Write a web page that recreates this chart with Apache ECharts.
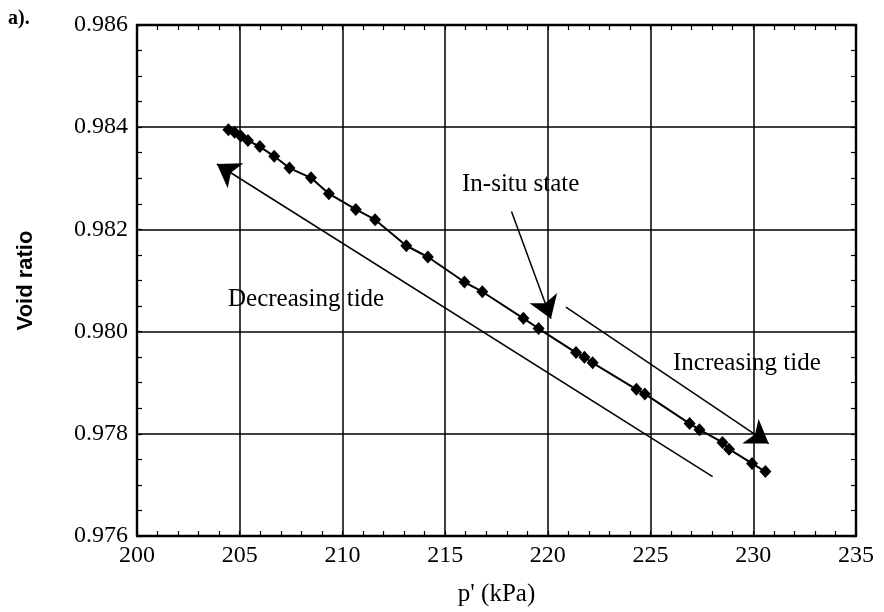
<!DOCTYPE html>
<html>
<head>
<meta charset="utf-8">
<title>Void ratio vs p'</title>
<script src="https://cdn.jsdelivr.net/npm/echarts@6/dist/echarts.min.js"></script>
<style>
  html, body { margin: 0; padding: 0; background: #fff; }
  #chart { width: 884px; height: 612px; }
</style>
</head>
<body>
<div id="chart"></div>
<script>
// Measured states: mean effective stress p' (kPa) and void ratio
const pressure = [204.45, 204.75, 205.05, 205.40, 205.98, 206.68, 207.42, 208.47, 209.34,
  210.65, 211.59, 213.11, 214.16, 215.94, 216.81, 218.81, 219.55, 221.37, 221.78, 222.18,
  224.31, 224.72, 226.90, 227.38, 228.50, 228.82, 229.94, 230.59];
const voidRatio = [0.98395, 0.98390, 0.98383, 0.98374, 0.98362, 0.98343, 0.98320, 0.98301, 0.98270,
  0.98239, 0.98219, 0.98168, 0.98146, 0.98097, 0.98078, 0.98026, 0.98006, 0.97959, 0.97950, 0.97939,
  0.97887, 0.97878, 0.97820, 0.97808, 0.97783, 0.97770, 0.97742, 0.97726];

// Direction arrows: [tail, head] in (p', e)
const decreasingTide = [[228.02, 0.97716], [203.89, 0.98328]];
const increasingTide = [[220.88, 0.98048], [230.75, 0.97781]];
const inSituPointer  = [[218.23, 0.98235], [220.15, 0.98025]];

// Axis ticks
const xTicks = [200, 205, 210, 215, 220, 225, 230, 235];
const yTicks = [0.976, 0.978, 0.980, 0.982, 0.984, 0.986];

const serif = "'Liberation Serif', 'DejaVu Serif', serif";
const ink = '#000';

const chart = echarts.init(document.getElementById('chart'), null, { renderer: 'canvas' });

const tickInside = { show: true, inside: true, length: 5, lineStyle: { color: ink, width: 1.2 } };
const minorInside = { show: true, splitNumber: 5, length: 5, lineStyle: { color: ink, width: 1.2 } };

const points = pressure.map((p, i) => [p, voidRatio[i]]);

chart.setOption({
  backgroundColor: '#fff',
  animation: false,
  grid: { left: 137, right: 28, top: 25, bottom: 74, containLabel: false },
  xAxis: [{
    type: 'value',
    position: 'bottom',
    min: xTicks[0], max: xTicks[xTicks.length - 1], interval: 5,
    name: "p' (kPa)",
    nameLocation: 'middle',
    nameGap: 46,
    nameTextStyle: { fontFamily: serif, fontSize: 25, color: ink },
    axisLine: { show: true, onZero: false, lineStyle: { color: ink, width: 2.4 } },
    axisTick: tickInside,
    minorTick: minorInside,
    axisLabel: { fontFamily: serif, fontSize: 24, color: ink, margin: 8 },
    splitLine: { show: true, lineStyle: { color: ink, width: 1.5 } }
  }, {
    type: 'value',
    position: 'top',
    min: xTicks[0], max: xTicks[xTicks.length - 1], interval: 5,
    axisLine: { show: true, onZero: false, lineStyle: { color: ink, width: 2.4 } },
    axisTick: tickInside,
    minorTick: minorInside,
    axisLabel: { show: false },
    splitLine: { show: false }
  }],
  yAxis: [{
    type: 'value',
    position: 'left',
    min: yTicks[0], max: yTicks[yTicks.length - 1], interval: 0.002,
    name: 'Void ratio',
    nameLocation: 'middle',
    nameGap: 100,
    nameRotate: 90,
    nameTextStyle: { fontFamily: "'Liberation Sans', Arial, sans-serif", fontSize: 22,
      fontWeight: 'bold', color: ink },
    axisLine: { show: true, onZero: false, lineStyle: { color: ink, width: 2.4 } },
    axisTick: tickInside,
    minorTick: Object.assign({}, minorInside, { splitNumber: 4 }),
    axisLabel: { fontFamily: serif, fontSize: 24, color: ink, margin: 9,
      formatter: v => v.toFixed(3) },
    splitLine: { show: true, lineStyle: { color: ink, width: 1.5 } }
  }, {
    type: 'value',
    position: 'right',
    min: yTicks[0], max: yTicks[yTicks.length - 1], interval: 0.002,
    axisLine: { show: true, onZero: false, lineStyle: { color: ink, width: 2.4 } },
    axisTick: tickInside,
    minorTick: Object.assign({}, minorInside, { splitNumber: 4 }),
    axisLabel: { show: false },
    splitLine: { show: false }
  }],
  series: [{
    name: 'Void ratio',
    type: 'line',
    xAxisIndex: 0, yAxisIndex: 0,
    data: points,
    symbol: 'diamond',
    symbolSize: [12, 13],
    showSymbol: true,
    lineStyle: { color: ink, width: 2 },
    itemStyle: { color: ink },
    z: 5
  }, {
    name: 'Tide direction',
    type: 'lines',
    coordinateSystem: 'cartesian2d',
    xAxisIndex: 0, yAxisIndex: 0,
    symbol: ['none', 'arrow'],
    symbolSize: 22,
    lineStyle: { color: ink, width: 1.5, opacity: 1 },
    data: [
      { coords: decreasingTide },
      { coords: increasingTide },
      { coords: inSituPointer }
    ],
    z: 4
  }],
  graphic: [
    { type: 'text', left: 8, top: 9,
      style: { text: 'a).', font: "bold 20px 'Liberation Serif', serif", fill: ink } },
    { type: 'text', left: 462, top: 172,
      style: { text: 'In-situ state', font: "25px 'Liberation Serif', serif", fill: ink } },
    { type: 'text', left: 228, top: 287,
      style: { text: 'Decreasing tide', font: "25px 'Liberation Serif', serif", fill: ink } },
    { type: 'text', left: 673, top: 351,
      style: { text: 'Increasing tide', font: "25px 'Liberation Serif', serif", fill: ink } }
  ]
});
</script>
</body>
</html>
